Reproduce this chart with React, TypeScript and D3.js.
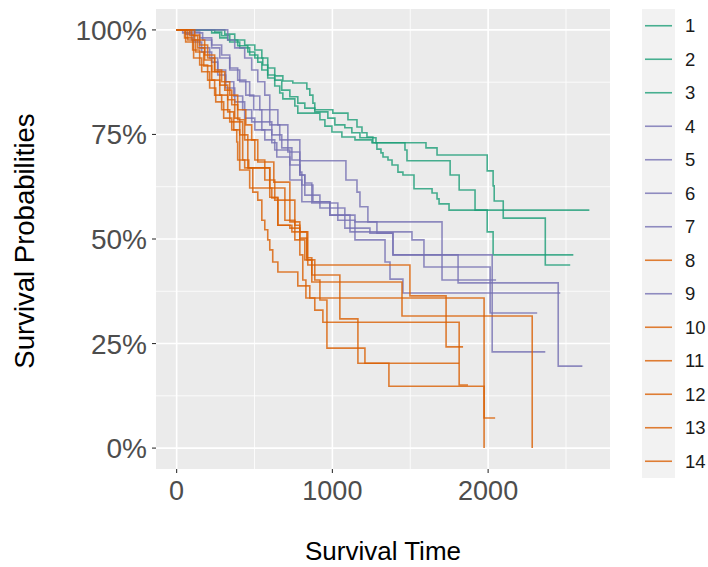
import React, { useEffect, useRef } from "react";
import * as d3 from "d3";

// legend groups, in the order ggplot lists them
const groups = ["1", "2", "3", "4", "5", "6", "7", "8", "9", "10", "11", "12", "13", "14"];
const groupColor = ["#1B9E77", "#1B9E77", "#1B9E77", "#7570B3", "#7570B3", "#7570B3", "#7570B3",
  "#D95F02", "#7570B3", "#D95F02", "#D95F02", "#D95F02", "#D95F02", "#D95F02"];

// step times (days) and survival after each step
const time1 = [244, 289, 341, 405, 469, 521, 547, 585, 630, 662, 682, 759, 778, 920, 952, 997, 1061, 1145, 1254, 1286, 1312, 1325, 1357, 1383, 1421, 1453, 1524, 1640, 1672, 1685, 1749];
const surv1 = [0.995, 0.986, 0.971, 0.957, 0.94, 0.923, 0.904, 0.885, 0.866, 0.849, 0.835, 0.818, 0.801, 0.785, 0.77, 0.756, 0.744, 0.737, 0.73, 0.715, 0.706, 0.696, 0.689, 0.677, 0.66, 0.653, 0.62, 0.61, 0.596, 0.584, 0.569];
const time2 = [225, 277, 328, 392, 457, 502, 553, 585, 630, 675, 727, 778, 823, 887, 971, 1016, 1080, 1125, 1177, 1280, 1466, 1479, 1756, 1814, 1916, 1994, 2032];
const surv2 = [0.993, 0.981, 0.976, 0.962, 0.947, 0.933, 0.916, 0.892, 0.88, 0.856, 0.84, 0.825, 0.813, 0.804, 0.789, 0.773, 0.766, 0.754, 0.742, 0.73, 0.713, 0.687, 0.653, 0.617, 0.569, 0.517, 0.462];
const time3 = [309, 373, 437, 502, 547, 585, 630, 682, 746, 836, 855, 875, 887, 1003, 1100, 1158, 1190, 1222, 1260, 1601, 1672, 1994, 2032, 2039, 2097, 2367];
const surv3 = [0.99, 0.976, 0.964, 0.952, 0.933, 0.909, 0.89, 0.878, 0.873, 0.859, 0.844, 0.825, 0.809, 0.801, 0.785, 0.768, 0.754, 0.744, 0.73, 0.718, 0.701, 0.663, 0.627, 0.591, 0.55, 0.438];
const time4 = [84, 148, 225, 289, 341, 392, 444, 495, 547, 611, 675, 740, 791, 823, 920, 1080, 1145, 1286, 1389, 1807, 2450];
const surv4 = [0.995, 0.981, 0.964, 0.94, 0.909, 0.88, 0.844, 0.809, 0.78, 0.749, 0.718, 0.689, 0.653, 0.605, 0.574, 0.557, 0.541, 0.514, 0.462, 0.395, 0.196];
const time5 = [39, 96, 148, 212, 264, 315, 367, 424, 482, 547, 611, 643, 727, 804, 984, 1080, 1241, 1389, 2026];
const surv5 = [0.993, 0.976, 0.957, 0.933, 0.904, 0.876, 0.842, 0.809, 0.78, 0.761, 0.73, 0.696, 0.641, 0.589, 0.557, 0.526, 0.514, 0.462, 0.23];
const time6 = [116, 167, 225, 277, 341, 405, 469, 534, 598, 662, 714, 791, 804, 875, 984, 1113, 1511, 1588, 2013];
const surv6 = [0.993, 0.976, 0.957, 0.933, 0.904, 0.876, 0.842, 0.809, 0.773, 0.737, 0.708, 0.66, 0.629, 0.589, 0.557, 0.517, 0.498, 0.433, 0.323];
const time7 = [58, 109, 161, 225, 264, 315, 373, 437, 502, 566, 630, 727, 791, 823, 868, 1035, 1145, 1338, 1370, 1453];
const surv7 = [0.99, 0.971, 0.947, 0.923, 0.892, 0.861, 0.828, 0.789, 0.761, 0.737, 0.713, 0.677, 0.653, 0.634, 0.586, 0.545, 0.498, 0.445, 0.404, 0.371];
const time8 = [84, 135, 180, 225, 277, 328, 373, 405, 457, 598, 650, 740, 842, 1498, 1730];
const surv8 = [0.986, 0.957, 0.928, 0.9, 0.868, 0.833, 0.789, 0.749, 0.67, 0.6, 0.533, 0.517, 0.438, 0.364, 0.242];
const time9 = [328, 373, 437, 482, 521, 566, 598, 650, 714, 791, 1087, 1158, 1177, 1228, 1704];
const surv9 = [0.976, 0.957, 0.933, 0.904, 0.876, 0.844, 0.809, 0.773, 0.737, 0.687, 0.641, 0.612, 0.577, 0.541, 0.402];
const time10 = [51, 103, 148, 199, 244, 289, 341, 424, 463, 598, 695, 759, 791, 810, 830, 1974];
const surv10 = [0.981, 0.952, 0.916, 0.88, 0.844, 0.809, 0.78, 0.689, 0.67, 0.622, 0.593, 0.533, 0.462, 0.402, 0.359, 0.072];
const time11 = [71, 122, 174, 225, 277, 328, 367, 405, 469, 611, 650, 727, 791, 836, 868, 1048, 1164, 1363, 1974];
const surv11 = [0.976, 0.947, 0.914, 0.88, 0.844, 0.804, 0.761, 0.665, 0.622, 0.598, 0.533, 0.526, 0.517, 0.455, 0.414, 0.309, 0.203, 0.148, 0];
const time12 = [96, 148, 199, 244, 289, 341, 392, 444, 482, 521, 624, 727, 791, 836, 868, 1447, 2283];
const surv12 = [0.988, 0.964, 0.933, 0.904, 0.876, 0.844, 0.809, 0.773, 0.737, 0.684, 0.636, 0.541, 0.502, 0.45, 0.397, 0.316, 0];
const time13 = [116, 180, 244, 309, 354, 392, 437, 502, 566, 630, 695, 759, 823, 887, 920, 965, 1814];
const surv13 = [0.976, 0.94, 0.9, 0.856, 0.821, 0.785, 0.737, 0.689, 0.641, 0.593, 0.545, 0.498, 0.45, 0.402, 0.354, 0.301, 0.151];
const time14 = [58, 109, 161, 212, 251, 302, 354, 386, 392, 437, 489, 521, 547, 566, 585, 598, 617, 650, 778, 855, 887, 939, 965, 1209];
const surv14 = [0.971, 0.933, 0.9, 0.861, 0.828, 0.789, 0.761, 0.732, 0.689, 0.67, 0.612, 0.593, 0.545, 0.522, 0.498, 0.474, 0.445, 0.421, 0.388, 0.359, 0.33, 0.301, 0.239, 0.203];

// last follow-up time of each group
const lastTime = [2650, 2547, 2527, 2605, 2367, 2315, 2463, 1839, 2051, 2045, 1974, 2283, 1871, 1814];

const stepTimes = [time1, time2, time3, time4, time5, time6, time7, time8, time9, time10, time11, time12, time13, time14];
const stepSurv = [surv1, surv2, surv3, surv4, surv5, surv6, surv7, surv8, surv9, surv10, surv11, surv12, surv13, surv14];

const xTicks = [0, 1000, 2000];
const xMinor = [500, 1500, 2500];
const yTicks = [0, 0.25, 0.5, 0.75, 1];
const yMinor = [0.125, 0.375, 0.625, 0.875];

const W = 708, H = 567;
const FONT = "'Liberation Sans', Arial, Helvetica, sans-serif";

function KMPlot() {
  const ref = useRef<SVGSVGElement>(null);

  useEffect(() => {
    const svg = d3.select(ref.current);
    svg.selectAll("*").remove();

    const left = 156, right = 610, top = 9, bottom = 469;
    const maxT = d3.max(lastTime) as number;
    const x = d3.scaleLinear().domain([-maxT * 0.05, maxT * 1.05]).range([left, right]);
    const y = d3.scaleLinear().domain([-0.05, 1.05]).range([bottom, top]);

    // panel
    svg.append("rect")
      .attr("x", left).attr("y", top)
      .attr("width", right - left).attr("height", bottom - top)
      .attr("fill", "#EBEBEB");

    const grid = svg.append("g").attr("stroke", "#FFFFFF");
    xMinor.forEach(v => grid.append("line").attr("x1", x(v)).attr("x2", x(v)).attr("y1", top).attr("y2", bottom).attr("stroke-width", 0.8));
    yMinor.forEach(v => grid.append("line").attr("x1", left).attr("x2", right).attr("y1", y(v)).attr("y2", y(v)).attr("stroke-width", 0.8));
    xTicks.forEach(v => grid.append("line").attr("x1", x(v)).attr("x2", x(v)).attr("y1", top).attr("y2", bottom).attr("stroke-width", 1.6));
    yTicks.forEach(v => grid.append("line").attr("x1", left).attr("x2", right).attr("y1", y(v)).attr("y2", y(v)).attr("stroke-width", 1.6));

    // survival curves
    const line = d3.line<[number, number]>()
      .x(d => x(d[0]))
      .y(d => y(d[1]))
      .curve(d3.curveStepAfter);

    groups.forEach((g, i) => {
      const ts = stepTimes[i], ss = stepSurv[i];
      const pts: [number, number][] = [[0, 1]];
      ts.forEach((t, j) => pts.push([t, ss[j]]));
      pts.push([lastTime[i], ss[ss.length - 1]]);
      svg.append("path")
        .attr("d", line(pts))
        .attr("fill", "none")
        .attr("stroke", groupColor[i])
        .attr("stroke-opacity", 0.8)
        .attr("stroke-width", 1.6);
    });

    // axes
    const axes = svg.append("g").attr("font-family", FONT);
    xTicks.forEach(v => {
      axes.append("line").attr("x1", x(v)).attr("x2", x(v)).attr("y1", bottom).attr("y2", bottom + 4)
        .attr("stroke", "#333333").attr("stroke-width", 1.1);
      axes.append("text").attr("x", x(v)).attr("y", 500).attr("text-anchor", "middle")
        .attr("font-size", 27).attr("fill", "#4D4D4D").text(d3.format("d")(v));
    });
    yTicks.forEach(v => {
      axes.append("line").attr("x1", left - 4).attr("x2", left).attr("y1", y(v)).attr("y2", y(v))
        .attr("stroke", "#333333").attr("stroke-width", 1.1);
      axes.append("text").attr("x", 147).attr("y", y(v) + 10).attr("text-anchor", "end")
        .attr("font-size", 28).attr("fill", "#4D4D4D").text(d3.format(".0%")(v));
    });

    axes.append("text").attr("x", (left + right) / 2).attr("y", 560).attr("text-anchor", "middle")
      .attr("font-size", 26).attr("fill", "#000000").text("Survival Time");
    axes.append("text")
      .attr("transform", `translate(34,${(top + bottom) / 2 + 2}) rotate(-90)`)
      .attr("text-anchor", "middle")
      .attr("font-size", 27.5).attr("fill", "#000000").text("Survival Probabilities");

    // legend
    const keyH = 33.5, keyTop = 9;
    const legend = svg.append("g").attr("font-family", FONT);
    legend.append("rect")
      .attr("x", 642).attr("y", keyTop)
      .attr("width", 33).attr("height", keyH * groups.length)
      .attr("fill", "#F2F2F2");
    const item = legend.selectAll(".legend")
      .data(groups)
      .enter()
      .append("g")
      .attr("class", "legend")
      .attr("transform", (d, i) => "translate(0," + (keyTop + keyH * (i + 0.5)) + ")");
    item.append("line")
      .attr("x1", 645).attr("x2", 672)
      .attr("stroke", (d, i) => groupColor[i])
      .attr("stroke-opacity", 0.8)
      .attr("stroke-width", 1.6);
    item.append("text")
      .attr("x", 685).attr("y", 6.5)
      .attr("font-size", 18.5).attr("fill", "#1A1A1A")
      .text(d => d);
  }, []);

  return <svg ref={ref} width={W} height={H} style={{ position: "absolute", left: 0, top: 0, background: "#FFFFFF" }} />;
}

export default function App() {
  return <KMPlot />;
}
